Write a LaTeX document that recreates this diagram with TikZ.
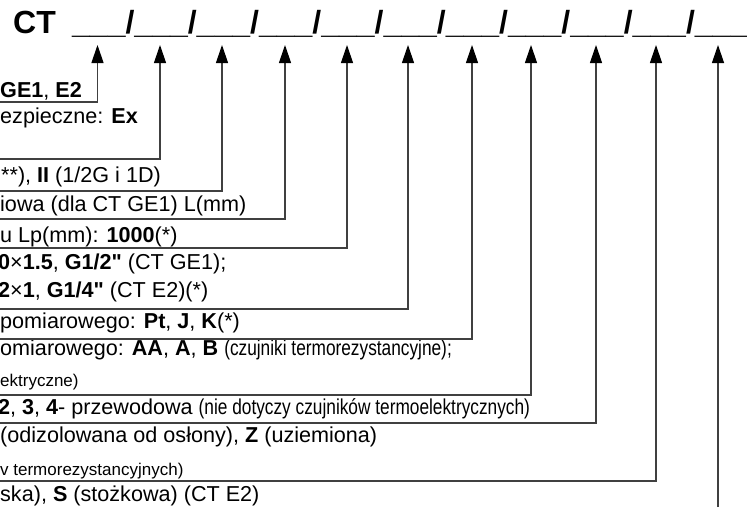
\documentclass[tikz,border=0pt]{standalone}
\usepackage{fontspec}
\setmainfont{Liberation Sans}
\newfontfamily\narrowfont[FakeStretch=0.8]{Liberation Sans}
\usetikzlibrary{arrows.meta}
\tikzstyle{code} = [anchor=base west, inner sep=0pt, font=\fontsize{32}{36}\selectfont\bfseries]
\tikzstyle{item} = [anchor=base west, inner sep=0pt, font=\fontsize{21.6}{25}\selectfont]
\tikzstyle{note} = [anchor=base west, inner sep=0pt, font=\fontsize{17}{20}\selectfont]
\tikzstyle{arrow} = [line width=1.2pt, draw=black!75, -{Triangle[length=18pt,width=12pt,color=black]}]
\newcommand{\nota}[1]{{\narrowfont #1}}

\begin{document}
\begin{tikzpicture}[x=1pt,y=-1pt]
\useasboundingbox (0,0) rectangle (747,507);
\clip (0,0) rectangle (747,507);

% kod zamowieniowy
\node (ct) [code] at (13,33) {CT};
\node (kod) [code] at (72,33) {\_\_\_/\_\_\_/\_\_\_/\_\_\_/\_\_\_/\_\_\_/\_\_\_/\_\_\_/\_\_\_/\_\_\_/\_\_\_};

% groty
\coordinate (t1) at (97.5,45);
\coordinate (t2) at (160,45);
\coordinate (t3) at (222,45);
\coordinate (t4) at (285,45);
\coordinate (t5) at (347,45);
\coordinate (t6) at (408,45);
\coordinate (t7) at (472,45);
\coordinate (t8) at (531,45);
\coordinate (t9) at (596,45);
\coordinate (t10) at (656,45);
\coordinate (t11) at (718,45);

% opisy
\node (o1) [item] at (0,97) {\textbf{GE1}, \textbf{E2}};
\node (o2) [item] at (0,123) {ezpieczne: \textbf{Ex}};
\node (o3) [item] at (1,182) {**), \textbf{II} (1/2G i 1D)};
\node (o4) [item] at (0,211) {iowa (dla CT GE1) L(mm)};
\node (o5) [item] at (0,242) {u Lp(mm): \textbf{1000}(*)};
\node (o6) [item] at (-2,269) {\textbf{0}×\textbf{1.5}, \textbf{G1/2\textquotedbl} (CT GE1);};
\node (o7) [item] at (-2,297) {\textbf{2}×\textbf{1}, \textbf{G1/4\textquotedbl} (CT E2)(*)};
\node (o8) [item] at (0,328) {pomiarowego: \textbf{Pt}, \textbf{J}, \textbf{K}(*)};
\node (o9) [item] at (0,355) {omiarowego: \textbf{AA}, \textbf{A}, \textbf{B} \nota{(czujniki termorezystancyjne);}};
\node (o10) [note] at (0,386) {ektryczne)};
\node (o11) [item] at (-2,414) {\textbf{2}, \textbf{3}, \textbf{4}- przewodowa \nota{(nie dotyczy czujników termoelektrycznych)}};
\node (o12) [item] at (0,442) {(odizolowana od osłony), \textbf{Z} (uziemiona)};
\node (o13) [note] at (0,475) {v termorezystancyjnych)};
\node (o14) [item] at (0,501) {ska), \textbf{S} (stożkowa) (CT E2)};

% linie odniesienia
\coordinate (l1) at (0,102);
\coordinate (l2) at (0,159);
\coordinate (l3) at (0,191);
\coordinate (l4) at (0,219);
\coordinate (l5) at (0,248);
\coordinate (l6) at (0,309);
\coordinate (l7) at (0,339);
\coordinate (l8) at (0,395);
\coordinate (l9) at (0,423);
\coordinate (l10) at (0,481);
\coordinate (l11) at (718,507);
\draw [arrow] (l1) -| (t1);
\draw [arrow] (l2) -| (t2);
\draw [arrow] (l3) -| (t3);
\draw [arrow] (l4) -| (t4);
\draw [arrow] (l5) -| (t5);
\draw [arrow] (l6) -| (t6);
\draw [arrow] (l7) -| (t7);
\draw [arrow] (l8) -| (t8);
\draw [arrow] (l9) -| (t9);
\draw [arrow] (l10) -| (t10);
\draw [arrow] (l11) -- (t11);

\end{tikzpicture}
\end{document}
